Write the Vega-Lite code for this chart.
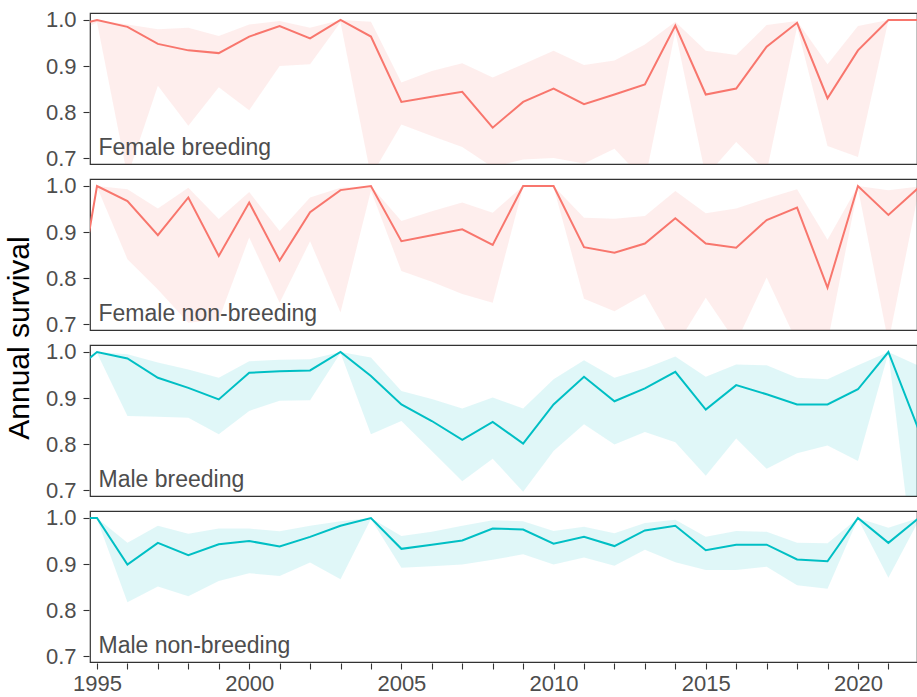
{
  "$schema": "https://vega.github.io/schema/vega-lite/v6.json",
  "padding": {"top": 8, "left": 4, "right": 0, "bottom": 0},
  "background": "white",
  "config": {
    "font": "Liberation Sans",
    "view": {"stroke": "#333333", "strokeWidth": 1.2},
    "axis": {"grid": false, "domain": false, "tickColor": "#333333", "tickSize": 6, "tickWidth": 1.1, "labelColor": "#4d4d4d", "labelFontSize": 22, "labelFont": "Liberation Sans"}
  },
  "data": {"values": [
    {"panel": "Female breeding", "year": 1994, "est": 0.983, "lo": 0.96, "hi": 1.0},
    {"panel": "Female breeding", "year": 1995, "est": 1.0, "lo": 0.995, "hi": 1.0},
    {"panel": "Female breeding", "year": 1996, "est": 0.985, "lo": 0.66, "hi": 0.99},
    {"panel": "Female breeding", "year": 1997, "est": 0.948, "lo": 0.857, "hi": 0.98},
    {"panel": "Female breeding", "year": 1998, "est": 0.934, "lo": 0.77, "hi": 0.983},
    {"panel": "Female breeding", "year": 1999, "est": 0.928, "lo": 0.854, "hi": 0.965},
    {"panel": "Female breeding", "year": 2000, "est": 0.964, "lo": 0.804, "hi": 0.99},
    {"panel": "Female breeding", "year": 2001, "est": 0.987, "lo": 0.9, "hi": 0.998},
    {"panel": "Female breeding", "year": 2002, "est": 0.96, "lo": 0.904, "hi": 0.983},
    {"panel": "Female breeding", "year": 2003, "est": 1.0, "lo": 0.995, "hi": 1.0},
    {"panel": "Female breeding", "year": 2004, "est": 0.964, "lo": 0.66, "hi": 0.996},
    {"panel": "Female breeding", "year": 2005, "est": 0.822, "lo": 0.773, "hi": 0.864},
    {"panel": "Female breeding", "year": 2006, "est": 0.833, "lo": 0.748, "hi": 0.889},
    {"panel": "Female breeding", "year": 2007, "est": 0.844, "lo": 0.724, "hi": 0.906},
    {"panel": "Female breeding", "year": 2008, "est": 0.766, "lo": 0.68, "hi": 0.875},
    {"panel": "Female breeding", "year": 2009, "est": 0.822, "lo": 0.697, "hi": 0.904},
    {"panel": "Female breeding", "year": 2010, "est": 0.851, "lo": 0.7, "hi": 0.933},
    {"panel": "Female breeding", "year": 2011, "est": 0.817, "lo": 0.688, "hi": 0.902},
    {"panel": "Female breeding", "year": 2012, "est": 0.838, "lo": 0.72, "hi": 0.912},
    {"panel": "Female breeding", "year": 2013, "est": 0.86, "lo": 0.65, "hi": 0.947},
    {"panel": "Female breeding", "year": 2014, "est": 0.988, "lo": 0.975, "hi": 0.996},
    {"panel": "Female breeding", "year": 2015, "est": 0.838, "lo": 0.66, "hi": 0.933},
    {"panel": "Female breeding", "year": 2016, "est": 0.851, "lo": 0.735, "hi": 0.924},
    {"panel": "Female breeding", "year": 2017, "est": 0.942, "lo": 0.67, "hi": 0.989},
    {"panel": "Female breeding", "year": 2018, "est": 0.994, "lo": 0.985, "hi": 0.998},
    {"panel": "Female breeding", "year": 2019, "est": 0.83, "lo": 0.726, "hi": 0.904},
    {"panel": "Female breeding", "year": 2020, "est": 0.934, "lo": 0.702, "hi": 0.987},
    {"panel": "Female breeding", "year": 2021, "est": 1.0, "lo": 0.999, "hi": 1.0},
    {"panel": "Female breeding", "year": 2022, "est": 1.0, "lo": 0.999, "hi": 1.0},

    {"panel": "Female non-breeding", "year": 1994, "est": 0.61, "lo": 0.58, "hi": 0.64},
    {"panel": "Female non-breeding", "year": 1995, "est": 1.0, "lo": 0.998, "hi": 1.0},
    {"panel": "Female non-breeding", "year": 1996, "est": 0.967, "lo": 0.841, "hi": 0.993},
    {"panel": "Female non-breeding", "year": 1997, "est": 0.893, "lo": 0.775, "hi": 0.951},
    {"panel": "Female non-breeding", "year": 1998, "est": 0.975, "lo": 0.703, "hi": 0.996},
    {"panel": "Female non-breeding", "year": 1999, "est": 0.848, "lo": 0.71, "hi": 0.928},
    {"panel": "Female non-breeding", "year": 2000, "est": 0.964, "lo": 0.888, "hi": 0.987},
    {"panel": "Female non-breeding", "year": 2001, "est": 0.838, "lo": 0.746, "hi": 0.902},
    {"panel": "Female non-breeding", "year": 2002, "est": 0.943, "lo": 0.88, "hi": 0.975},
    {"panel": "Female non-breeding", "year": 2003, "est": 0.991, "lo": 0.725, "hi": 0.996},
    {"panel": "Female non-breeding", "year": 2004, "est": 1.0, "lo": 0.99, "hi": 1.0},
    {"panel": "Female non-breeding", "year": 2005, "est": 0.88, "lo": 0.815, "hi": 0.924},
    {"panel": "Female non-breeding", "year": 2006, "est": 0.893, "lo": 0.792, "hi": 0.945},
    {"panel": "Female non-breeding", "year": 2007, "est": 0.906, "lo": 0.765, "hi": 0.964},
    {"panel": "Female non-breeding", "year": 2008, "est": 0.872, "lo": 0.746, "hi": 0.942},
    {"panel": "Female non-breeding", "year": 2009, "est": 1.0, "lo": 0.998, "hi": 1.0},
    {"panel": "Female non-breeding", "year": 2010, "est": 1.0, "lo": 0.998, "hi": 1.0},
    {"panel": "Female non-breeding", "year": 2011, "est": 0.867, "lo": 0.755, "hi": 0.931},
    {"panel": "Female non-breeding", "year": 2012, "est": 0.855, "lo": 0.728, "hi": 0.929},
    {"panel": "Female non-breeding", "year": 2013, "est": 0.875, "lo": 0.765, "hi": 0.935},
    {"panel": "Female non-breeding", "year": 2014, "est": 0.93, "lo": 0.65, "hi": 0.989},
    {"panel": "Female non-breeding", "year": 2015, "est": 0.875, "lo": 0.757, "hi": 0.941},
    {"panel": "Female non-breeding", "year": 2016, "est": 0.866, "lo": 0.66, "hi": 0.951},
    {"panel": "Female non-breeding", "year": 2017, "est": 0.926, "lo": 0.801, "hi": 0.973},
    {"panel": "Female non-breeding", "year": 2018, "est": 0.953, "lo": 0.66, "hi": 0.993},
    {"panel": "Female non-breeding", "year": 2019, "est": 0.779, "lo": 0.66, "hi": 0.883},
    {"panel": "Female non-breeding", "year": 2020, "est": 1.0, "lo": 0.995, "hi": 1.0},
    {"panel": "Female non-breeding", "year": 2021, "est": 0.937, "lo": 0.66, "hi": 0.991},
    {"panel": "Female non-breeding", "year": 2022, "est": 0.997, "lo": 0.99, "hi": 0.999},

    {"panel": "Male breeding", "year": 1994, "est": 0.946, "lo": 0.93, "hi": 0.96},
    {"panel": "Male breeding", "year": 1995, "est": 1.0, "lo": 0.998, "hi": 1.0},
    {"panel": "Male breeding", "year": 1996, "est": 0.986, "lo": 0.861, "hi": 0.995},
    {"panel": "Male breeding", "year": 1997, "est": 0.944, "lo": 0.859, "hi": 0.977},
    {"panel": "Male breeding", "year": 1998, "est": 0.922, "lo": 0.857, "hi": 0.962},
    {"panel": "Male breeding", "year": 1999, "est": 0.897, "lo": 0.821, "hi": 0.944},
    {"panel": "Male breeding", "year": 2000, "est": 0.955, "lo": 0.872, "hi": 0.98},
    {"panel": "Male breeding", "year": 2001, "est": 0.958, "lo": 0.894, "hi": 0.983},
    {"panel": "Male breeding", "year": 2002, "est": 0.96, "lo": 0.895, "hi": 0.984},
    {"panel": "Male breeding", "year": 2003, "est": 1.0, "lo": 0.998, "hi": 1.0},
    {"panel": "Male breeding", "year": 2004, "est": 0.948, "lo": 0.821, "hi": 0.988},
    {"panel": "Male breeding", "year": 2005, "est": 0.886, "lo": 0.85, "hi": 0.915},
    {"panel": "Male breeding", "year": 2006, "est": 0.85, "lo": 0.785, "hi": 0.898},
    {"panel": "Male breeding", "year": 2007, "est": 0.809, "lo": 0.719, "hi": 0.877},
    {"panel": "Male breeding", "year": 2008, "est": 0.848, "lo": 0.768, "hi": 0.901},
    {"panel": "Male breeding", "year": 2009, "est": 0.801, "lo": 0.696, "hi": 0.877},
    {"panel": "Male breeding", "year": 2010, "est": 0.886, "lo": 0.785, "hi": 0.941},
    {"panel": "Male breeding", "year": 2011, "est": 0.946, "lo": 0.843, "hi": 0.982},
    {"panel": "Male breeding", "year": 2012, "est": 0.893, "lo": 0.799, "hi": 0.944},
    {"panel": "Male breeding", "year": 2013, "est": 0.921, "lo": 0.826, "hi": 0.964},
    {"panel": "Male breeding", "year": 2014, "est": 0.957, "lo": 0.804, "hi": 0.99},
    {"panel": "Male breeding", "year": 2015, "est": 0.875, "lo": 0.731, "hi": 0.946},
    {"panel": "Male breeding", "year": 2016, "est": 0.928, "lo": 0.812, "hi": 0.973},
    {"panel": "Male breeding", "year": 2017, "est": 0.908, "lo": 0.746, "hi": 0.971},
    {"panel": "Male breeding", "year": 2018, "est": 0.886, "lo": 0.78, "hi": 0.944},
    {"panel": "Male breeding", "year": 2019, "est": 0.886, "lo": 0.797, "hi": 0.941},
    {"panel": "Male breeding", "year": 2020, "est": 0.919, "lo": 0.763, "hi": 0.971},
    {"panel": "Male breeding", "year": 2021, "est": 1.0, "lo": 0.998, "hi": 1.0},
    {"panel": "Male breeding", "year": 2022, "est": 0.83, "lo": 0.45, "hi": 0.97},

    {"panel": "Male non-breeding", "year": 1994, "est": 1.0, "lo": 0.998, "hi": 1.0},
    {"panel": "Male non-breeding", "year": 1995, "est": 1.0, "lo": 0.998, "hi": 1.0},
    {"panel": "Male non-breeding", "year": 1996, "est": 0.899, "lo": 0.817, "hi": 0.946},
    {"panel": "Male non-breeding", "year": 1997, "est": 0.946, "lo": 0.851, "hi": 0.983},
    {"panel": "Male non-breeding", "year": 1998, "est": 0.919, "lo": 0.83, "hi": 0.966},
    {"panel": "Male non-breeding", "year": 1999, "est": 0.943, "lo": 0.863, "hi": 0.977},
    {"panel": "Male non-breeding", "year": 2000, "est": 0.95, "lo": 0.88, "hi": 0.977},
    {"panel": "Male non-breeding", "year": 2001, "est": 0.938, "lo": 0.874, "hi": 0.971},
    {"panel": "Male non-breeding", "year": 2002, "est": 0.959, "lo": 0.903, "hi": 0.983},
    {"panel": "Male non-breeding", "year": 2003, "est": 0.983, "lo": 0.867, "hi": 0.993},
    {"panel": "Male non-breeding", "year": 2004, "est": 1.0, "lo": 0.998, "hi": 1.0},
    {"panel": "Male non-breeding", "year": 2005, "est": 0.933, "lo": 0.892, "hi": 0.961},
    {"panel": "Male non-breeding", "year": 2006, "est": 0.942, "lo": 0.895, "hi": 0.97},
    {"panel": "Male non-breeding", "year": 2007, "est": 0.951, "lo": 0.899, "hi": 0.983},
    {"panel": "Male non-breeding", "year": 2008, "est": 0.977, "lo": 0.909, "hi": 0.995},
    {"panel": "Male non-breeding", "year": 2009, "est": 0.975, "lo": 0.921, "hi": 0.993},
    {"panel": "Male non-breeding", "year": 2010, "est": 0.944, "lo": 0.899, "hi": 0.972},
    {"panel": "Male non-breeding", "year": 2011, "est": 0.959, "lo": 0.914, "hi": 0.981},
    {"panel": "Male non-breeding", "year": 2012, "est": 0.939, "lo": 0.896, "hi": 0.967},
    {"panel": "Male non-breeding", "year": 2013, "est": 0.973, "lo": 0.931, "hi": 0.989},
    {"panel": "Male non-breeding", "year": 2014, "est": 0.983, "lo": 0.904, "hi": 0.996},
    {"panel": "Male non-breeding", "year": 2015, "est": 0.93, "lo": 0.887, "hi": 0.959},
    {"panel": "Male non-breeding", "year": 2016, "est": 0.942, "lo": 0.887, "hi": 0.972},
    {"panel": "Male non-breeding", "year": 2017, "est": 0.942, "lo": 0.894, "hi": 0.97},
    {"panel": "Male non-breeding", "year": 2018, "est": 0.91, "lo": 0.854, "hi": 0.946},
    {"panel": "Male non-breeding", "year": 2019, "est": 0.906, "lo": 0.846, "hi": 0.945},
    {"panel": "Male non-breeding", "year": 2020, "est": 1.0, "lo": 0.998, "hi": 1.0},
    {"panel": "Male non-breeding", "year": 2021, "est": 0.946, "lo": 0.87, "hi": 0.979},
    {"panel": "Male non-breeding", "year": 2022, "est": 1.0, "lo": 0.995, "hi": 1.0}
  ]},
  "facet": {
    "row": {
      "field": "panel", "type": "nominal",
      "sort": ["Female breeding", "Female non-breeding", "Male breeding", "Male non-breeding"],
      "title": "Annual survival",
      "header": {"labels": false, "titleFontSize": 30, "titleFont": "Liberation Sans", "titleColor": "black", "titleFontWeight": "normal", "titlePadding": 0}
    }
  },
  "spacing": 13,
  "spec": {
    "width": 827,
    "height": 151,
    "encoding": {
      "x": {"field": "year", "type": "quantitative", "scale": {"domain": [1994.77, 2021.94], "nice": false, "zero": false},
        "axis": {"title": null, "values": [1995,1996,1997,1998,1999,2000,2001,2002,2003,2004,2005,2006,2007,2008,2009,2010,2011,2012,2013,2014,2015,2016,2017,2018,2019,2020,2021], "format": "d", "labelExpr": "datum.value % 5 == 0 ? datum.label : ''", "labelOverlap": false, "labelFlush": false, "labelPadding": 4}}
    },
    "layer": [
      {
        "mark": {"type": "area", "clip": true, "opacity": 0.12},
        "encoding": {
          "y": {"field": "lo", "type": "quantitative", "scale": {"domain": [0.687, 1.0152], "nice": false, "zero": false},
            "axis": {"title": null, "values": [0.7, 0.8, 0.9, 1.0], "format": ".1f", "labelPadding": 7}},
          "y2": {"field": "hi"},
          "color": {"field": "panel", "type": "nominal", "legend": null,
            "scale": {"domain": ["Female breeding", "Female non-breeding", "Male breeding", "Male non-breeding"], "range": ["#F8766D", "#F8766D", "#00BFC4", "#00BFC4"]}}
        }
      },
      {
        "mark": {"type": "line", "clip": true, "strokeWidth": 2},
        "encoding": {
          "y": {"field": "est", "type": "quantitative"},
          "color": {"field": "panel", "type": "nominal", "legend": null}
        }
      },
      {
        "transform": [{"filter": "datum.year == 1995"}],
        "mark": {"type": "text", "align": "left", "baseline": "alphabetic", "fontSize": 23, "color": "#4d4d4d", "font": "Liberation Sans"},
        "encoding": {
          "x": {"datum": 1995.05, "type": "quantitative"},
          "y": {"datum": 0.707, "type": "quantitative"},
          "text": {"field": "panel"}
        }
      }
    ]
  }
}
